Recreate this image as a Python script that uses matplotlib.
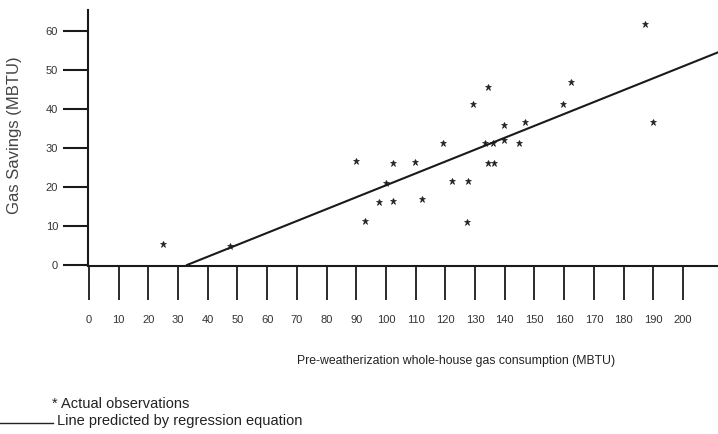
import matplotlib
matplotlib.use("Agg")
import matplotlib.pyplot as plt

plt.rcParams['font.family'] = ['Liberation Sans', 'DejaVu Sans']

# Observations (pre-weatherization consumption, gas savings)
obs_x = [25.0, 47.5, 89.9, 92.8, 97.5, 100.0, 102.5, 102.3, 109.8, 112.2,
         119.2, 122.2, 127.4, 127.7, 129.4, 133.4, 134.3, 134.2, 135.9, 136.5,
         139.6, 139.8, 144.7, 146.8, 159.5, 162.3, 187.2, 190.0]
obs_y = [5.3, 4.9, 26.7, 11.3, 16.1, 21.1, 26.1, 16.5, 26.5, 16.8,
         31.4, 21.5, 10.9, 21.5, 41.2, 31.2, 45.6, 26.2, 31.4, 26.2,
         35.9, 32.1, 31.4, 36.7, 41.2, 46.9, 61.7, 36.7]

# Regression line endpoints
line_x = [33.0, 212.0]
line_y = [0.0, 54.6]

x_ticks = list(range(0, 201, 10))
y_ticks = list(range(0, 61, 10))

fig = plt.figure(figsize=(7.18, 4.34), dpi=100)
ax = fig.add_axes([88/718, (434-266)/434, 630/718, 256/434])

ax.plot(obs_x, obs_y, linestyle='none', marker='*', markersize=5,
        color='#222222', markeredgewidth=0.5)
ax.plot(line_x, line_y, color='#1a1a1a', linewidth=1.5, clip_on=True)

ax.set_xlim(-0.34, 211.8)
ax.set_ylim(-0.26, 65.4)

for s in ['top', 'right']:
    ax.spines[s].set_visible(False)
for s in ['left', 'bottom']:
    ax.spines[s].set_linewidth(1.5)
    ax.spines[s].set_color('#1a1a1a')

ax.set_xticks(x_ticks)
ax.set_xticklabels([str(v) for v in x_ticks])
ax.set_yticks(y_ticks)
ax.set_yticklabels([str(v) for v in y_ticks])

ax.tick_params(axis='x', direction='out', length=24.5, width=1.3,
               color='#1a1a1a', pad=11, labelsize=8, labelcolor='#333333')
ax.tick_params(axis='y', direction='out', length=18, width=1.5,
               color='#1a1a1a', pad=3.6, labelsize=8, labelcolor='#333333')

fig.text(15/718, 1 - 135/434, 'Gas Savings (MBTU)', rotation=90,
         ha='center', va='center', fontsize=12, color='#444444')
fig.text(456/718, 1 - 361/434,
         'Pre-weatherization whole-house gas consumption (MBTU)',
         ha='center', va='center', fontsize=8.8, color='#222222')

fig.text(52/718, 1 - 404/434, '* Actual observations',
         ha='left', va='center', fontsize=10.5, color='#222222')
fig.text(57/718, 1 - 421/434, 'Line predicted by regression equation',
         ha='left', va='center', fontsize=10.5, color='#222222')
fig.add_artist(plt.Line2D([0, 53/718], [1 - 423/434, 1 - 423/434],
                          color='#222222', linewidth=1.0,
                          transform=fig.transFigure))

fig.savefig('out.png', dpi=100)
